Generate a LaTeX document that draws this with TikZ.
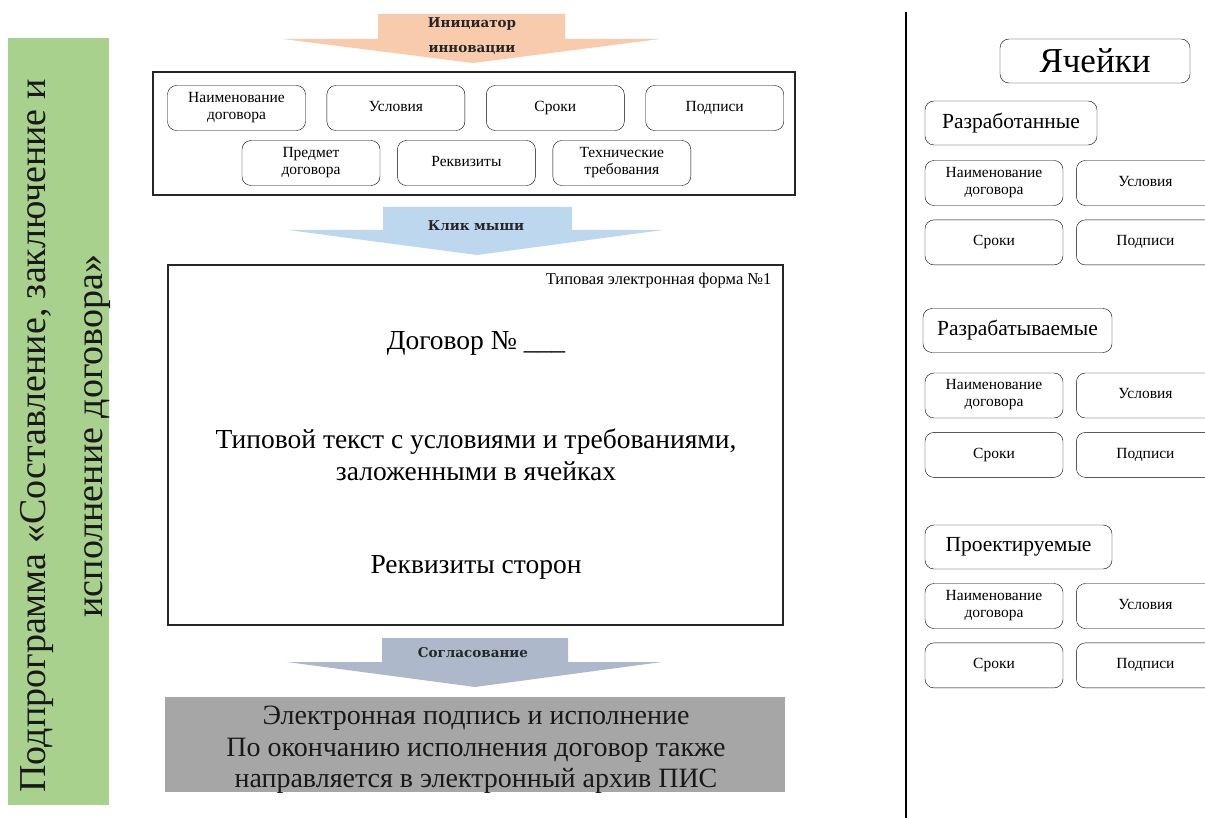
\documentclass[tikz,border=0pt]{standalone}
\usepackage{fontspec}
\setmainfont{Liberation Serif}
\newfontfamily\arrowfont{DejaVu Serif}
\usetikzlibrary{positioning}

\definecolor{peach}{HTML}{F8CBAD}
\definecolor{skyblue}{HTML}{BDD7EE}
\definecolor{slate}{HTML}{ADB9CA}
\definecolor{leaf}{HTML}{A9D18E}
\definecolor{ash}{HTML}{A6A6A6}

\tikzset{
  cell/.style={draw, rounded corners=9pt, minimum width=138pt, minimum height=45pt,
    align=center, inner sep=1pt, font=\fontsize{15.5}{17}\selectfont,
    execute at begin node=\strut, execute at end node=\strut},
  group/.style={draw, rounded corners=9pt, minimum height=44pt, inner sep=0pt,
    font=\fontsize{21.5}{24}\selectfont},
  frame/.style={draw=black!85, line width=1.3pt, inner sep=0pt},
  arrowtext/.style={font=\arrowfont\bfseries\fontsize{13.5}{25}\selectfont, align=center, text=black!85},
  bigtext/.style={font=\fontsize{27.5}{31.5}\selectfont, align=center, inner sep=0pt}
}

\begin{document}
\begin{tikzpicture}[x=1pt, y=-1pt]
\useasboundingbox (0,0) rectangle (1205,818);

% left bar
\node[fill=leaf, minimum width=101pt, minimum height=767pt, inner sep=0pt] (bar) at (58.5,421.5) {};
\node[rotate=90, align=center, inner sep=0pt, font=\fontsize{38}{57}\selectfont, text=black!90] (title) at (65,436)
  {Подпрограмма «Составление, заключение и\\исполнение договора»};

% arrow 1
\fill[peach] (378,14) -- (565,14) -- (565,39) -- (660,39) -- (473,63) -- (283,39) -- (378,39) -- cycle;
\node[arrowtext] (init) at (472,36) {Инициатор\\инновации};

% cells on top
\node[frame, minimum width=642pt, minimum height=123pt] (top) at (474,133.5) {};
\node[cell] (t1) at (236.5,108) {Наименование\\договора};
\node[cell, right=21pt of t1] (t2) {Условия};
\node[cell, right=21pt of t2] (t3) {Сроки};
\node[cell, right=21pt of t3] (t4) {Подписи};
\node[cell] (t5) at (311,163) {Предмет\\договора};
\node[cell, right=17pt of t5] (t6) {Реквизиты};
\node[cell, right=17pt of t6] (t7) {Технические\\требования};

% arrow 2
\fill[skyblue] (383,207) -- (572,207) -- (572,230) -- (663,230) -- (477,255) -- (288,230) -- (383,230) -- cycle;
\node[arrowtext] (click) at (476,226) {Клик мыши};

% form
\node[frame, minimum width=615pt, minimum height=360pt] (form) at (475.5,445) {};
\node[anchor=north east, inner sep=0pt, font=\fontsize{16.5}{19}\selectfont] (formno)
  at ([xshift=-12pt, yshift=-9pt]form.north east) {Типовая электронная форма №1};
\node[bigtext] (dog) at (476,343) {Договор № \_\_\_};
\node[bigtext] (txt) at (476,455) {Типовой текст с условиями и требованиями,\\заложенными в ячейках};
\node[bigtext] (rekv) at (476,567) {Реквизиты сторон};

% arrow 3
\fill[slate] (382,638) -- (568,638) -- (568,662) -- (662,662) -- (475,687) -- (287,662) -- (382,662) -- cycle;
\node[arrowtext] (agree) at (473,653) {Согласование};

% result
\node[fill=ash, minimum width=620pt, minimum height=95pt, inner sep=0pt] (res) at (475,744.5) {};
\node[bigtext, font=\fontsize{28}{31.5}\selectfont, text=black!90] (restext) at (476,750)
  {Электронная подпись и исполнение\\По окончанию исполнения договор также\\направляется в электронный архив ПИС};

% divider
\coordinate (d1) at (906,12);
\coordinate (d2) at (906,818);
\draw[line width=1.8pt] (d1) -- (d2);

% cells on the right
\node[group, minimum width=190pt, font=\fontsize{35}{38}\selectfont] (cells) at (1095,61) {Ячейки};

\node[group, minimum width=172pt] (h1) at (1011,123) {Разработанные};
\node[cell] (k1) at (994,183) {Наименование\\договора};
\node[cell, right=13pt of k1] (k2) {Условия};
\node[cell, below=14pt of k1] (k3) {Сроки};
\node[cell, right=13pt of k3] (k4) {Подписи};

\node[group, minimum width=189pt] (h2) at (1017.5,330.5) {Разрабатываемые};
\node[cell] (k5) at (994,395.5) {Наименование\\договора};
\node[cell, right=13pt of k5] (k6) {Условия};
\node[cell, below=14pt of k5] (k7) {Сроки};
\node[cell, right=13pt of k7] (k8) {Подписи};

\node[group, minimum width=187pt] (h3) at (1018.5,547) {Проектируемые};
\node[cell] (k9) at (994,606) {Наименование\\договора};
\node[cell, right=13pt of k9] (k10) {Условия};
\node[cell, below=14pt of k9] (k11) {Сроки};
\node[cell, right=13pt of k11] (k12) {Подписи};
\end{tikzpicture}
\end{document}
